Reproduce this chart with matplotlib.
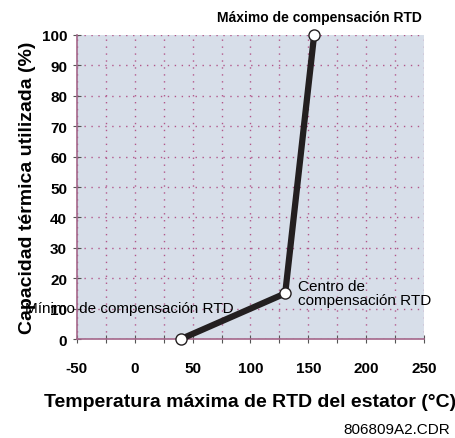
import matplotlib
matplotlib.use('Agg')
from matplotlib import pyplot as plt
from matplotlib.ticker import MultipleLocator

plt.rcParams['font.family'] = ['Liberation Sans', 'DejaVu Sans']

# curve points (temperature in C, thermal capacity used in %)
temps = [40, 130, 155]
capacity = [0, 15, 100]

x_ticks = [-50, 0, 50, 100, 150, 200, 250]
y_ticks = [0, 10, 20, 30, 40, 50, 60, 70, 80, 90, 100]

grid_col = '#b2578a'
spine_col = '#a4668a'

fig = plt.figure(figsize=(4.55, 4.39), dpi=100)
ax = fig.add_axes([0.169, 0.2255, 0.763, 0.6925])
ax.set_facecolor('#d7dee9')

ax.set_xlim(-50, 250)
ax.set_ylim(0, 100)
ax.set_xticks(x_ticks)
ax.set_yticks(y_ticks)
ax.xaxis.set_minor_locator(MultipleLocator(25))
ax.set_xticklabels([str(t) for t in x_ticks], fontweight='bold', fontsize=11)
ax.set_yticklabels([str(t) for t in y_ticks], fontweight='bold', fontsize=11)
ax.tick_params(axis='both', which='both', direction='inout', length=6,
               width=0.8, color='#555555', pad=4)
ax.tick_params(axis='x', which='major', pad=13)

ax.grid(True, which='both', linestyle=(0, (1, 4)), color=grid_col, linewidth=1.0)
ax.set_axisbelow(True)
for side in ['top', 'right']:
    ax.spines[side].set_visible(False)
for side in ['left', 'bottom']:
    ax.spines[side].set_color(spine_col)
    ax.spines[side].set_linewidth(1.2)

ax.plot(temps, capacity, color='#231f20', linewidth=4.5, solid_capstyle='butt',
        marker='o', markersize=8, markerfacecolor='white',
        markeredgecolor='#231f20', markeredgewidth=1.0, zorder=5, clip_on=False)

ax.set_xlabel('Temperatura máxima de RTD del estator (°C)', fontweight='bold',
              fontsize=14, labelpad=13)
ax.set_ylabel('Capacidad térmica utilizada (%)', fontweight='bold',
              fontsize=14, labelpad=4)

fig.text(0.703, 0.958, 'Máximo de compensación RTD', fontweight='bold',
         fontsize=10, ha='center', va='center')
fig.text(0.655, 0.33, 'Centro de\ncompensación RTD', fontsize=11,
         ha='left', va='center', linespacing=0.95)
fig.text(0.055, 0.297, 'Mínimo de compensación RTD', fontsize=11,
         ha='left', va='center')
fig.text(0.99, 0.02, '806809A2.CDR', fontsize=11, ha='right', va='center')

plt.savefig('out.png', dpi=100)
